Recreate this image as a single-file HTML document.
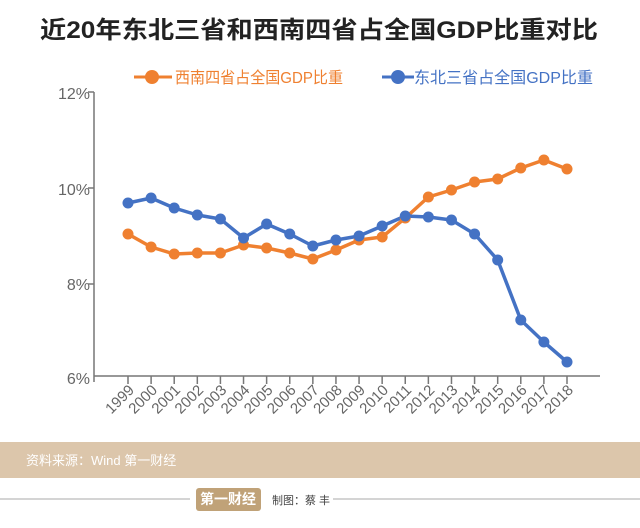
<!DOCTYPE html>
<html><head><meta charset="utf-8"><style>
html,body{margin:0;padding:0;background:#fff;}
body{width:640px;height:523px;overflow:hidden;}
text{font-family:"Liberation Sans","Noto Sans CJK SC",sans-serif;}
</style></head><body>
<svg width="640" height="523" viewBox="0 0 640 523" xmlns="http://www.w3.org/2000/svg">
<rect width="640" height="523" fill="#fff"/>
<text x="40" y="38" font-size="24" font-weight="bold" fill="#222" textLength="558" lengthAdjust="spacingAndGlyphs">近20年东北三省和西南四省占全国GDP比重对比</text>
<!-- legend -->
<line x1="134" y1="77" x2="172" y2="77" stroke="#ef8030" stroke-width="3"/>
<circle cx="152" cy="77" r="7" fill="#ef8030"/>
<text x="175" y="83" font-size="16" fill="#ef8030" textLength="168" lengthAdjust="spacingAndGlyphs">西南四省占全国GDP比重</text>
<line x1="382" y1="77" x2="414" y2="77" stroke="#4472c4" stroke-width="3"/>
<circle cx="398" cy="77" r="7" fill="#4472c4"/>
<text x="414" y="83" font-size="16" fill="#4472c4" textLength="179" lengthAdjust="spacingAndGlyphs">东北三省占全国GDP比重</text>
<!-- axes -->
<g fill="#666" font-size="16">
<text x="90" y="99" text-anchor="end">12%</text>
<text x="90" y="195" text-anchor="end">10%</text>
<text x="90" y="290" text-anchor="end">8%</text>
<text x="90" y="384" text-anchor="end">6%</text>
</g>
<g stroke="#777" stroke-width="1.5">
<line x1="94" y1="92" x2="94" y2="382"/>
<line x1="88" y1="92" x2="94" y2="92"/>
<line x1="88" y1="188" x2="94" y2="188"/>
<line x1="88" y1="284" x2="94" y2="284"/>
<line x1="94" y1="376" x2="600" y2="376"/>
</g>
<g id="ticks" stroke="#777" stroke-width="1.5"></g>
<g id="labels" fill="#666" font-size="15"></g>
<polyline id="or" fill="none" stroke="#ef8030" stroke-width="3.5" stroke-linejoin="round"/>
<polyline id="bl" fill="none" stroke="#4472c4" stroke-width="3.5" stroke-linejoin="round"/>
<g id="orc" fill="#ef8030"></g>
<g id="blc" fill="#4472c4"></g>
<!-- footer -->
<rect x="0" y="442" width="640" height="36" fill="#dcc6ab"/>
<text x="26" y="465" font-size="13" fill="#fff">资料来源：Wind  第一财经</text>
<line x1="0" y1="499" x2="190" y2="499" stroke="#aaa" stroke-width="1"/>
<line x1="333" y1="499" x2="640" y2="499" stroke="#aaa" stroke-width="1"/>
<rect x="196" y="488" width="65" height="23" rx="3" fill="#c0a278"/>
<text x="228" y="504" font-size="14" font-weight="bold" fill="#fff" text-anchor="middle">第一财经</text>
<text x="272" y="504" font-size="11" fill="#444">制图：蔡 丰</text>
</svg>
<script>
var ns="http://www.w3.org/2000/svg";
var bl=[203,198,208,215,219,238,224,234,246,240,236,226,216,217,220,234,260,320,342,362];
var or=[234,247,254,253,253,245,248,253,259,250,240,237,218,197,190,182,179,168,160,169];
function X(i){return 128+i*(567-128)/19;}
var pb=[],po=[];
for(var i=0;i<20;i++){
 var x=X(i);
 pb.push(x+","+bl[i]);po.push(x+","+or[i]);
 var t=document.createElementNS(ns,"line");t.setAttribute("x1",x);t.setAttribute("x2",x);t.setAttribute("y1",376);t.setAttribute("y2",384);document.getElementById("ticks").appendChild(t);
 var l=document.createElementNS(ns,"text");l.setAttribute("transform","translate("+(x+7)+",391) rotate(-45)");l.setAttribute("text-anchor","end");l.textContent=1999+i;document.getElementById("labels").appendChild(l);
 [["orc",or[i]],["blc",bl[i]]].forEach(function(a){var c=document.createElementNS(ns,"circle");c.setAttribute("cx",x);c.setAttribute("cy",a[1]);c.setAttribute("r",5.5);document.getElementById(a[0]).appendChild(c);});
}
document.getElementById("bl").setAttribute("points",pb.join(" "));
document.getElementById("or").setAttribute("points",po.join(" "));
</script>
</body></html>
